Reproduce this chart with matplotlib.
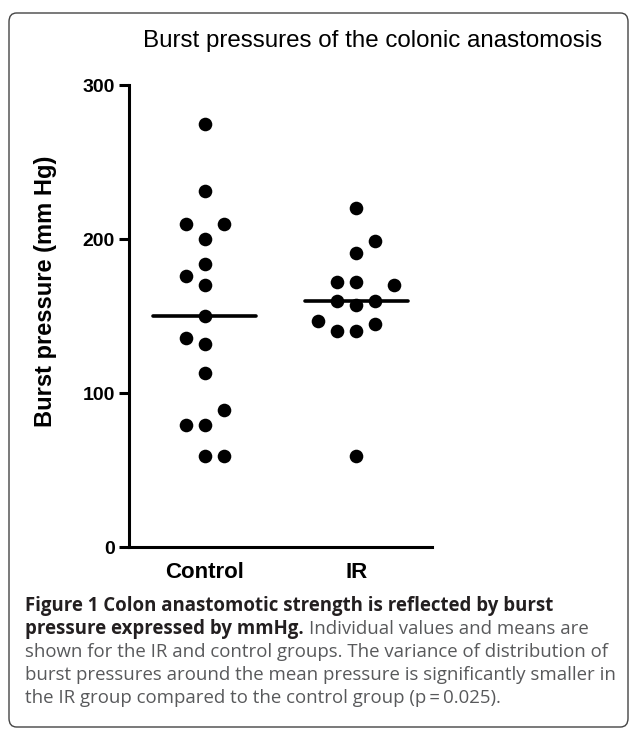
import matplotlib
matplotlib.use("Agg")
import matplotlib.pyplot as plt
from matplotlib.patches import FancyBboxPatch

# burst pressures (mm Hg)
groups = ["Control", "IR"]
control_vals = [275, 231, 210, 210, 200, 184, 176, 170, 150, 136, 132, 113, 89, 79, 79, 59, 59]
ir_vals = [220, 199, 191, 172, 172, 170, 160, 157, 160, 147, 145, 140, 140, 59]
# swarm column of each dot (-1 left, 0 centre, +1 right ...)
control_cols = [0, 0, -1, 1, 0, 0, -1, 0, 0, -1, 0, 0, 1, -1, 0, 0, 1]
ir_cols = [0, 1, 0, -1, 0, 2, -1, 0, 1, -2, 1, -1, 0, 0]
yticks = [0, 100, 200, 300]

W, H = 629, 730
fx = lambda px: px / W
fy = lambda py: 1 - py / H

fig = plt.figure(figsize=(W / 100, H / 100), dpi=100)

# rounded frame around figure + caption
frame = FancyBboxPatch((fx(9), fy(727)), fx(628) - fx(9), fy(13) - fy(727),
                       boxstyle="round,pad=0,rounding_size=0.012",
                       transform=fig.transFigure, fill=False,
                       edgecolor="#444444", linewidth=1.0)
fig.patches.append(frame)

ax = fig.add_axes([fx(129), fy(547), fx(432) - fx(129), fy(85) - fy(547)])

step = 0.125
for i, (vals, cols) in enumerate([(control_vals, control_cols), (ir_vals, ir_cols)]):
    xs = [i + 1 + c * step for c in cols]
    ax.plot(xs, vals, "o", color="black", markersize=9.8, markeredgewidth=0, zorder=3)
    mean = sum(vals) / len(vals)
    ax.plot([i + 1 - 0.34, i + 1 + 0.34], [mean, mean], color="black", lw=2.6,
            solid_capstyle="round", zorder=4)

ax.set_xlim(0.5, 2.5)
ax.set_ylim(0, 300)
ax.set_xticks([1, 2])
ax.set_xticklabels(groups, fontsize=16, fontweight="bold", family="Liberation Sans")
ax.set_yticks(yticks)
ax.set_yticklabels([str(t) for t in yticks], fontsize=14, fontweight="bold",
                   family="Liberation Sans")
ax.tick_params(axis="x", length=0, pad=11)
ax.tick_params(axis="y", length=7, width=2.2, pad=3)
for s in ["top", "right"]:
    ax.spines[s].set_visible(False)
for s in ["left", "bottom"]:
    ax.spines[s].set_linewidth(2.2)
ax.set_facecolor("none")

fig.text(fx(46), fy(291), "Burst pressure (mm Hg)", rotation=90, ha="center", va="center",
         fontsize=17, fontweight="bold", family="Liberation Sans")
fig.text(fx(373), fy(46.7), "Burst pressures of the colonic anastomosis", ha="center",
         va="baseline", fontsize=17.4, family="Liberation Sans")

# caption
cap = dict(fontsize=13.45, family="Open Sans", va="baseline", ha="left")
bold_c, reg_c = "#231f20", "#58595b"
fig.text(fx(25), fy(611), "Figure 1 Colon anastomotic strength is reflected by burst",
         fontweight="bold", color=bold_c, **cap)
t2 = fig.text(fx(25), fy(634), "pressure expressed by mmHg.", fontweight="bold",
              color=bold_c, **cap)
fig.canvas.draw()
bb = t2.get_window_extent()
fig.text((bb.x1 + 5) / W, fy(634), "Individual values and means are", color=reg_c, **cap)
fig.text(fx(25), fy(657), "shown for the IR and control groups. The variance of distribution of",
         color=reg_c, **cap)
fig.text(fx(25), fy(680), "burst pressures around the mean pressure is significantly smaller in",
         color=reg_c, **cap)
fig.text(fx(25), fy(703), "the IR group compared to the control group (p\u2009=\u20090.025).",
         color=reg_c, **cap)

fig.savefig("out.png", dpi=100)
